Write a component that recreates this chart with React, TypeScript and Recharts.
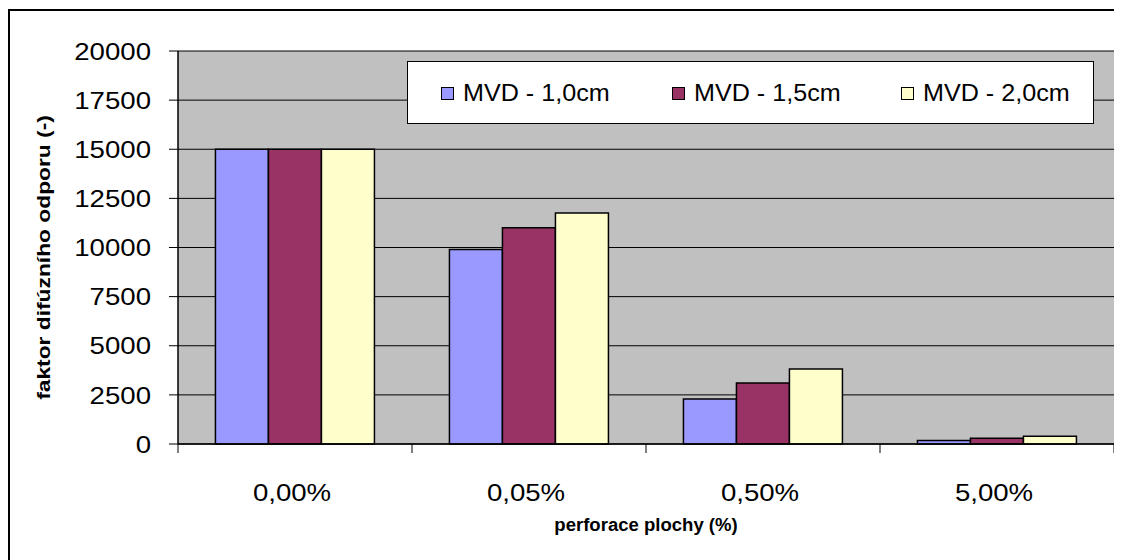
import React from "react";
import { BarChart, Bar, XAxis, YAxis, CartesianGrid } from "recharts";

// perforation share of the surface (categories on the x axis)
const categories = ["0,00%", "0,05%", "0,50%", "5,00%"];
// diffusion resistance factor for each membrane thickness
const mvd10 = [15000, 9900, 2290, 180];
const mvd15 = [15000, 11000, 3100, 290];
const mvd20 = [15000, 11750, 3820, 400];
const yTicks = [0, 2500, 5000, 7500, 10000, 12500, 15000, 17500, 20000];

const seriesNames = ["MVD - 1,0cm", "MVD - 1,5cm", "MVD - 2,0cm"];
const seriesColors = ["#9999FF", "#993366", "#FFFFCC"];

const data = categories.map((c, i) => ({
  cat: c,
  a: mvd10[i],
  b: mvd15[i],
  c: mvd20[i],
}));

const FONT = "Arial, 'Liberation Sans', sans-serif";
const W = 1114;
const H = 552;
const M = { top: 43, right: 8, left: 0, bottom: 0 };
const Y_W = 170;
// the lettering is set a little wider than plain Arial
const WIDEN = 1.15;

const YTick = (props: any) => {
  const { x, y, payload } = props;
  return (
    <text
      transform={`translate(${x},${y}) scale(${WIDEN},1)`}
      textAnchor="end"
      dy="0.36em"
      fontFamily={FONT}
      fontSize={24}
      fill="#000"
    >
      {payload.value}
    </text>
  );
};

const XTick = (props: any) => {
  const { x, y, payload, index } = props;
  const band = (W - M.right - Y_W) / categories.length;
  const half = payload && payload.offset ? payload.offset : band / 2;
  return (
    <g>
      <line x1={x - half} x2={x - half} y1={y} y2={y + 9} stroke="#000" strokeWidth={1} />
      {index === categories.length - 1 && (
        <line x1={x + half} x2={x + half} y1={y} y2={y + 9} stroke="#000" strokeWidth={1} />
      )}
      <text
        transform={`translate(${x - 3},${y + 57}) scale(${WIDEN},1)`}
        textAnchor="middle"
        fontFamily={FONT}
        fontSize={24}
        fill="#000"
      >
        {payload.value}
      </text>
    </g>
  );
};

const XTitle = (props: any) => {
  const vb = props.viewBox || {};
  const cx = vb.x + vb.width / 2;
  return (
    <text
      transform={`translate(${cx},${vb.y + 87}) scale(1.06,1)`}
      textAnchor="middle"
      fontFamily={FONT}
      fontSize={17.5}
      fontWeight="bold"
      fill="#000"
    >
      perforace plochy (%)
    </text>
  );
};

const YTitle = (props: any) => {
  const vb = props.viewBox || {};
  const cy = vb.y + vb.height / 2 + 10;
  return (
    <text
      transform={`translate(${42},${cy}) rotate(-90) scale(1.2,1)`}
      textAnchor="middle"
      fontFamily={FONT}
      fontSize={19}
      fontWeight="bold"
      fill="#000"
    >
      faktor difúzního odporu (-)
    </text>
  );
};

const LegendBox = () => (
  <div
    style={{
      position: "absolute",
      left: 399,
      top: 53,
      width: 687,
      height: 63,
      boxSizing: "border-box",
      border: "1px solid #000",
      background: "#fff",
      fontFamily: FONT,
      fontSize: 23.5,
      color: "#000",
    }}
  >
    {seriesNames.map((n, i) => (
      <div
        key={n}
        style={{
          position: "absolute",
          left: [33, 264, 493][i],
          top: 17,
          height: 28,
          display: "flex",
          alignItems: "center",
          whiteSpace: "nowrap",
        }}
      >
        <span
          style={{
            display: "inline-block",
            width: 11,
            height: 11,
            border: "1.5px solid #000",
            background: seriesColors[i],
            marginRight: 9,
          }}
        />
        <span style={{ display: "inline-block", transform: "scaleX(1.07)", transformOrigin: "left center" }}>{n}</span>
      </div>
    ))}
  </div>
);

export default function App() {
  return (
    <div style={{ position: "relative", width: W, height: H, background: "#fff" }}>
      <div
        style={{
          position: "absolute",
          left: 0,
          top: 1,
          width: W + 20,
          height: H + 20,
          borderTop: "2px solid #000",
          borderLeft: "2px solid #000",
        }}
      />
      <BarChart
        width={W}
        height={H}
        data={data}
        margin={M}
        barCategoryGap="16%"
        barGap={0}
        style={{ position: "absolute", left: 0, top: 0 }}
      >
        <CartesianGrid fill="#C0C0C0" stroke="#000" strokeWidth={1} vertical={false} />
        <XAxis
          dataKey="cat"
          height={116}
          tickLine={false}
          tickSize={0}
          tickMargin={0}
          axisLine={{ stroke: "#000", strokeWidth: 1.5 }}
          tick={<XTick />}
          interval={0}
          label={<XTitle />}
        />
        <YAxis
          width={Y_W}
          domain={[0, 20000]}
          ticks={yTicks}
          interval={0}
          tickSize={9}
          tickMargin={18}
          axisLine={{ stroke: "#000", strokeWidth: 1.5 }}
          tickLine={{ stroke: "#000" }}
          tick={<YTick />}
          label={<YTitle />}
        />
        <Bar dataKey="a" name={seriesNames[0]} fill={seriesColors[0]} stroke="#000" strokeWidth={1.5} isAnimationActive={false} />
        <Bar dataKey="b" name={seriesNames[1]} fill={seriesColors[1]} stroke="#000" strokeWidth={1.5} isAnimationActive={false} />
        <Bar dataKey="c" name={seriesNames[2]} fill={seriesColors[2]} stroke="#000" strokeWidth={1.5} isAnimationActive={false} />
      </BarChart>
      <LegendBox />
    </div>
  );
}
